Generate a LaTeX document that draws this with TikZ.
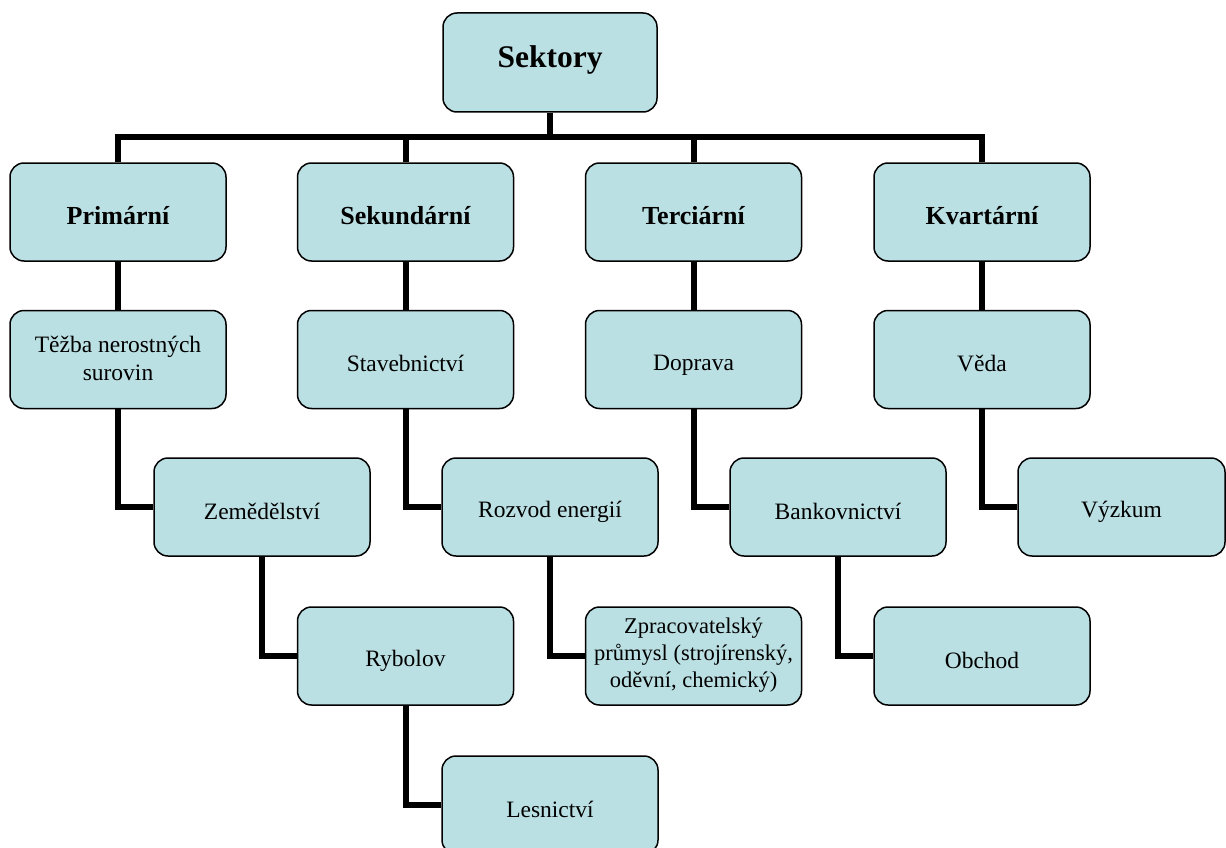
\documentclass[tikz,border=0pt]{standalone}
\usepackage{fontspec}
\setmainfont{Liberation Serif}
\definecolor{boxfill}{HTML}{BBE0E3}
\def\boxsht{28pt}
\def\boxsdp{2pt}
\tikzset{
  sht/.store in=\boxsht, sdp/.store in=\boxsdp,
  box/.style={draw=black, line width=1.5pt, fill=boxfill, rounded corners=14pt,
    minimum width=216pt, minimum height=98pt, align=center, inner sep=2pt,
    sht=28pt, sdp=2pt,
    execute at begin node={\rule[-\boxsdp]{0pt}{\boxsht}},
    execute at end node={\rule[-\boxsdp]{0pt}{\boxsht}},
    font=\fontsize{23.5pt}{28pt}\selectfont},
  lvlone/.style={box, font=\fontsize{26pt}{30pt}\selectfont\bfseries},
  topbox/.style={box, sht=22pt, sdp=12pt, minimum width=214pt, minimum height=99pt, font=\fontsize{31.5pt}{36pt}\selectfont\bfseries},
  conn/.style={draw=black, line width=6pt, line join=miter}
}
\begin{document}
\begin{tikzpicture}[x=1pt, y=-1pt]
\useasboundingbox (0,0) rectangle (1226,848);
\clip (0,0) rectangle (1226,848);
\coordinate (bus) at (550,137);
% nodes
\node[topbox] (S) at (550,62.5) {Sektory};
\node[lvlone] (P) at (118,212) {Primární};
\node[lvlone] (Sek) at (405.5,212) {Sekundární};
\node[lvlone] (T) at (693.5,212) {Terciární};
\node[lvlone] (K) at (982,212) {Kvartární};
\node[box] (Tez) at (118,359.5) {Těžba nerostných\\surovin};
\node[box] (Stav) at (405.5,359.5) {Stavebnictví};
\node[box] (Dop) at (693.5,359.5) {Doprava};
\node[box] (Veda) at (982,359.5) {Věda};
\node[box] (Zem) at (262,507) {Zemědělství};
\node[box] (Roz) at (550,507) {Rozvod energií};
\node[box] (Ban) at (838,507) {Bankovnictví};
\node[box, minimum width=207pt] (Vyz) at (1121.5,507) {Výzkum};
\node[box] (Ryb) at (405.5,656) {Rybolov};
\node[box, sht=27pt, sdp=6pt, font=\fontsize{22.5pt}{27pt}\selectfont] (Zpr) at (693.5,656) {Zpracovatelský\\průmysl (strojírenský,\\oděvní, chemický)};
\node[box] (Obc) at (982,656) {Obchod};
\node[box] (Les) at (550,805) {Lesnictví};
% connectors
\draw[conn] (S.south) -- (S.south |- bus);
\draw[conn] (P.north) -- (P.north |- bus) -- (K.north |- bus) -- (K.north);
\draw[conn] (Sek.north) -- (Sek.north |- bus);
\draw[conn] (T.north) -- (T.north |- bus);
\draw[conn] (P.south) -- (Tez.north);
\draw[conn] (Sek.south) -- (Stav.north);
\draw[conn] (T.south) -- (Dop.north);
\draw[conn] (K.south) -- (Veda.north);
\draw[conn] (Tez.south) |- (Zem.west);
\draw[conn] (Stav.south) |- (Roz.west);
\draw[conn] (Dop.south) |- (Ban.west);
\draw[conn] (Veda.south) |- (Vyz.west);
\draw[conn] (Zem.south) |- (Ryb.west);
\draw[conn] (Roz.south) |- (Zpr.west);
\draw[conn] (Ban.south) |- (Obc.west);
\draw[conn] (Ryb.south) |- (Les.west);
\end{tikzpicture}
\end{document}
